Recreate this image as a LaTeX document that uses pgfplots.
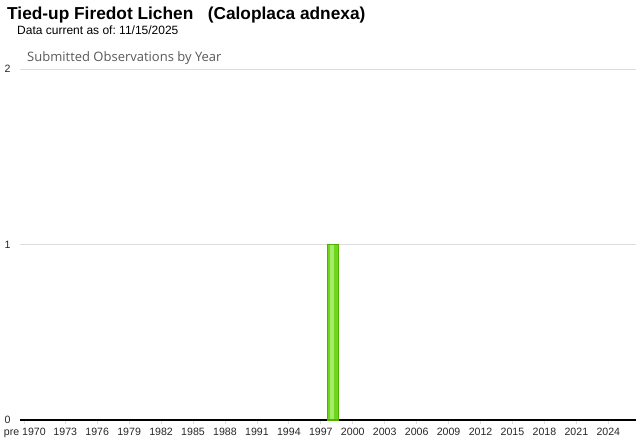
\documentclass[border=0pt]{standalone}
\usepackage{pgfplots}
\pgfplotsset{compat=1.18}
\usepackage{fontspec}
\setmainfont{Liberation Sans}
\newfontfamily\subfont{Open Sans}
\definecolor{gridc}{HTML}{DDDDDD}
\definecolor{barEdge}{HTML}{4FB000}
\definecolor{barL}{HTML}{6ED61C}
\definecolor{barM}{HTML}{A4EC68}
\begin{document}
\begin{tikzpicture}
\path[use as bounding box] (-20bp,-22bp) rectangle (620bp,420bp);
\begin{axis}[
  at={(0,0)}, anchor=south west,
  scale only axis,
  width=616bp, height=351bp,
  xmin=1968.75, xmax=2026.6,
  ymin=0, ymax=2,
  xtick={1969.2,1973,1976,...,2024},
  xticklabels={pre 1970,1973,1976,1979,1982,1985,1988,1991,1994,1997,2000,2003,2006,2009,2012,2015,2018,2021,2024},
  ytick={0,1,2},
  ymajorgrids, grid style={gridc, line width=0.8bp},
  axis lines*=left,
  y axis line style={draw=none},
  x axis line style={black, line width=1.2bp, -},
  xtick style={gridc, line width=0.8bp},
  ytick style={draw=none},
  tick align=outside,
  major tick length=4bp,
  /pgf/number format/assume math mode=true,
  ticklabel style={font=\fontsize{10.6bp}{12bp}\selectfont, text=black!85},
  xticklabel style={yshift=-1bp},
  yticklabel style={xshift=-2bp},
  clip=false,
]
\addplot[ybar, bar width=11bp, draw=none, fill=barL, bar shift=1.5bp] coordinates {(1998,1)};
\addplot[ybar, bar width=3.5bp, draw=none, fill=barM, bar shift=0.5bp] coordinates {(1998,1)};
\addplot[ybar, bar width=11bp, draw=barEdge, line width=1.2bp, fill=none, bar shift=1.5bp] coordinates {(1998,1)};
\end{axis}
\node[anchor=base west, inner sep=0] at (-13bp,400bp) {\fontsize{17.3bp}{19bp}\selectfont\bfseries Tied-up Firedot Lichen\ \ \ (Caloplaca adnexa)};
\node[anchor=base west, inner sep=0] at (-3bp,385bp) {\fontsize{12bp}{13bp}\selectfont Data current as of:\ 11/15/2025};
\node[anchor=base west, inner sep=0, text=black!65] at (7bp,358bp) {\subfont\fontsize{13bp}{15bp}\selectfont Submitted Observations by Year};
\end{tikzpicture}
\end{document}
